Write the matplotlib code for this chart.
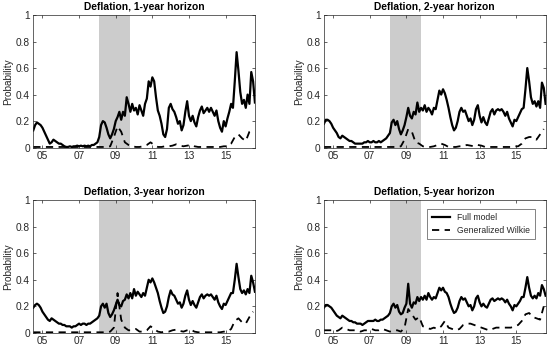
import numpy as np
import matplotlib
matplotlib.use("Agg")
import matplotlib.pyplot as plt

plt.rcParams['font.family'] = ['Liberation Sans', 'DejaVu Sans']

# time grids (years)
t_full = 2004.5 + 0.1 * np.arange(122)
t_wilkie = 2004.5 + 0.2 * np.arange(61)

titles = ["Deflation, 1-year horizon", "Deflation, 2-year horizon",
          "Deflation, 3-year horizon", "Deflation, 5-year horizon"]
tick_years = [2005, 2007, 2009, 2011, 2013, 2015]
tick_labels = ["05", "07", "09", "11", "13", "15"]
recession = (2008.1, 2009.78)

full_1y = [0.13, 0.17, 0.19, 0.18, 0.17, 0.15, 0.12, 0.09, 0.06, 0.03,
           0.04, 0.06, 0.05, 0.04, 0.03, 0.03, 0.02, 0.01, 0.005, 0.005,
           0.01, 0.005, 0.01, 0.01, 0.015, 0.01, 0.015, 0.01, 0.015, 0.01,
           0.015, 0.01, 0.02, 0.02, 0.03, 0.04, 0.08, 0.17, 0.20, 0.19,
           0.15, 0.10, 0.07, 0.10, 0.14, 0.20, 0.23, 0.27, 0.21, 0.27,
           0.24, 0.38, 0.33, 0.27, 0.33, 0.28, 0.30, 0.25, 0.32, 0.28,
           0.24, 0.33, 0.37, 0.50, 0.46, 0.53, 0.50, 0.38, 0.28, 0.24,
           0.18, 0.10, 0.08, 0.14, 0.30, 0.33, 0.29, 0.27, 0.23, 0.18,
           0.20, 0.13, 0.17, 0.27, 0.35, 0.24, 0.20, 0.24, 0.19, 0.16,
           0.23, 0.28, 0.31, 0.26, 0.28, 0.30, 0.27, 0.30, 0.27, 0.24,
           0.28, 0.20, 0.15, 0.12, 0.20, 0.16, 0.22, 0.27, 0.33, 0.30,
           0.50, 0.72, 0.58, 0.42, 0.33, 0.36, 0.30, 0.40, 0.33, 0.57,
           0.50, 0.34]
wilkie_1y = [0.005, 0.005, 0.005, 0.005, 0.005, 0.005, 0.005, 0.005, 0.005, 0.005,
             0.005, 0.005, 0.005, 0.005, 0.005, 0.005, 0.005, 0.005, 0.005, 0.005,
             0.005, 0.01, 0.08, 0.16, 0.12, 0.04, 0.02, 0.01, 0.005, 0.005,
             0.01, 0.02, 0.04, 0.02, 0.005, 0.005, 0.01, 0.01, 0.015, 0.025,
             0.015, 0.01, 0.015, 0.02, 0.01, 0.005, 0.005, 0.005, 0.005, 0.005,
             0.005, 0.005, 0.01, 0.01, 0.03, 0.08, 0.10, 0.07, 0.05, 0.12,
             0.14]

full_2y = [0.18, 0.21, 0.21, 0.20, 0.18, 0.15, 0.13, 0.11, 0.08, 0.07,
           0.09, 0.08, 0.07, 0.06, 0.05, 0.05, 0.04, 0.03, 0.03, 0.03,
           0.03, 0.03, 0.04, 0.04, 0.05, 0.04, 0.04, 0.05, 0.04, 0.04,
           0.05, 0.04, 0.05, 0.06, 0.07, 0.09, 0.11, 0.19, 0.21, 0.17,
           0.20, 0.14, 0.10, 0.13, 0.17, 0.23, 0.30, 0.24, 0.22, 0.27,
           0.25, 0.34, 0.27, 0.30, 0.28, 0.32, 0.27, 0.30, 0.28, 0.25,
           0.30, 0.29, 0.36, 0.43, 0.40, 0.44, 0.41, 0.36, 0.30, 0.23,
           0.17, 0.13, 0.15, 0.20, 0.27, 0.30, 0.27, 0.28, 0.24, 0.20,
           0.22, 0.17, 0.21, 0.29, 0.32, 0.24, 0.19, 0.23, 0.19, 0.17,
           0.22, 0.27, 0.29, 0.25, 0.28, 0.29, 0.28, 0.29, 0.27, 0.24,
           0.27, 0.22, 0.19, 0.16, 0.21, 0.20, 0.23, 0.26, 0.29, 0.30,
           0.44, 0.60, 0.50, 0.38, 0.33, 0.35, 0.31, 0.35, 0.30, 0.49,
           0.45, 0.33]
wilkie_2y = [0.005, 0.005, 0.005, 0.005, 0.005, 0.005, 0.005, 0.005, 0.005, 0.005,
             0.005, 0.005, 0.005, 0.005, 0.005, 0.005, 0.005, 0.005, 0.005, 0.005,
             0.005, 0.01, 0.06, 0.14, 0.12, 0.04, 0.03, 0.01, 0.005, 0.005,
             0.01, 0.02, 0.03, 0.02, 0.005, 0.005, 0.005, 0.01, 0.01, 0.02,
             0.015, 0.01, 0.02, 0.015, 0.005, 0.005, 0.005, 0.005, 0.005, 0.005,
             0.005, 0.005, 0.01, 0.01, 0.03, 0.07, 0.08, 0.08, 0.06, 0.10,
             0.14]

full_3y = [0.19, 0.21, 0.22, 0.21, 0.19, 0.16, 0.14, 0.12, 0.10, 0.09,
           0.11, 0.10, 0.09, 0.08, 0.07, 0.07, 0.06, 0.06, 0.05, 0.05,
           0.05, 0.04, 0.05, 0.05, 0.06, 0.07, 0.06, 0.07, 0.07, 0.06,
           0.07, 0.07, 0.08, 0.09, 0.10, 0.11, 0.13, 0.20, 0.22, 0.19,
           0.22, 0.15, 0.12, 0.14, 0.17, 0.21, 0.25, 0.21, 0.20, 0.24,
           0.25, 0.29, 0.26, 0.30, 0.26, 0.33, 0.28, 0.31, 0.29, 0.27,
           0.30, 0.28, 0.34, 0.40, 0.38, 0.41, 0.38, 0.34, 0.30, 0.24,
           0.19, 0.15, 0.16, 0.20, 0.27, 0.32, 0.29, 0.28, 0.25, 0.22,
           0.23, 0.19, 0.22, 0.28, 0.32, 0.25, 0.21, 0.24, 0.21, 0.19,
           0.23, 0.27, 0.29, 0.26, 0.28, 0.29, 0.28, 0.29, 0.27, 0.25,
           0.28, 0.23, 0.20, 0.18, 0.22, 0.21, 0.24, 0.27, 0.30, 0.30,
           0.40, 0.52, 0.42, 0.33, 0.30, 0.32, 0.29, 0.33, 0.30, 0.43,
           0.38, 0.31]
wilkie_3y = [0.005, 0.005, 0.005, 0.005, 0.005, 0.005, 0.005, 0.005, 0.005, 0.005,
             0.005, 0.005, 0.005, 0.005, 0.005, 0.005, 0.005, 0.005, 0.005, 0.005,
             0.005, 0.01, 0.04, 0.30, 0.10, 0.04, 0.02, 0.02, 0.03, 0.01,
             0.01, 0.02, 0.05, 0.03, 0.01, 0.005, 0.01, 0.01, 0.02, 0.025,
             0.015, 0.01, 0.02, 0.025, 0.01, 0.005, 0.005, 0.005, 0.005, 0.005,
             0.005, 0.005, 0.01, 0.01, 0.03, 0.09, 0.11, 0.08, 0.07, 0.12,
             0.16]

full_5y = [0.19, 0.21, 0.21, 0.20, 0.19, 0.17, 0.15, 0.13, 0.12, 0.11,
           0.13, 0.12, 0.11, 0.10, 0.09, 0.09, 0.08, 0.08, 0.07, 0.07,
           0.07, 0.06, 0.07, 0.08, 0.09, 0.09, 0.09, 0.09, 0.10, 0.09,
           0.09, 0.10, 0.10, 0.11, 0.12, 0.13, 0.15, 0.20, 0.22, 0.19,
           0.21, 0.16, 0.14, 0.15, 0.19, 0.22, 0.37, 0.22, 0.19, 0.23,
           0.22, 0.27, 0.24, 0.27, 0.25, 0.28, 0.25, 0.30, 0.27, 0.25,
           0.27, 0.26, 0.30, 0.34, 0.32, 0.34, 0.31, 0.30, 0.27, 0.22,
           0.18, 0.15, 0.16, 0.19, 0.24, 0.27, 0.25, 0.26, 0.23, 0.20,
           0.21, 0.17, 0.20, 0.26, 0.28, 0.23, 0.20, 0.22, 0.20, 0.19,
           0.22, 0.25, 0.26, 0.24, 0.25, 0.26, 0.25, 0.26, 0.25, 0.23,
           0.25, 0.22, 0.20, 0.17, 0.21, 0.20, 0.22, 0.24, 0.27, 0.27,
           0.34, 0.42, 0.34, 0.28, 0.26, 0.28, 0.26, 0.30, 0.28, 0.36,
           0.33, 0.28]
wilkie_5y = [0.02, 0.02, 0.02, 0.01, 0.02, 0.04, 0.03, 0.02, 0.02, 0.02,
             0.01, 0.02, 0.02, 0.03, 0.02, 0.02, 0.03, 0.02, 0.01, 0.02,
             0.02, 0.01, 0.04, 0.18, 0.14, 0.10, 0.12, 0.05, 0.04, 0.03,
             0.04, 0.03, 0.05, 0.09, 0.04, 0.03, 0.02, 0.03, 0.06, 0.07,
             0.07, 0.06, 0.05, 0.04, 0.03, 0.02, 0.03, 0.04, 0.04, 0.04,
             0.04, 0.04, 0.05, 0.06, 0.09, 0.14, 0.15, 0.12, 0.11, 0.10,
             0.20]

full_series = [full_1y, full_2y, full_3y, full_5y]
wilkie_series = [wilkie_1y, wilkie_2y, wilkie_3y, wilkie_5y]

fig = plt.figure(figsize=(5.5, 3.49), dpi=100)
# axes positions in figure fractions [left, bottom, width, height]
boxes = [[0.0605, 0.577, 0.403, 0.380],
         [0.589, 0.577, 0.403, 0.380],
         [0.0605, 0.046, 0.403, 0.381],
         [0.589, 0.046, 0.403, 0.381]]

axis_grey = (0.15, 0.15, 0.15)

for k in range(4):
    ax = fig.add_axes(boxes[k])
    ax.axvspan(recession[0], recession[1], color=(0.8, 0.8, 0.8), lw=0, zorder=0)
    ax.plot(t_full, full_series[k], color='black', lw=1.6, label='Full model')
    ax.plot(t_wilkie, wilkie_series[k], color='black', lw=1.3, ls=(0, (4, 3)),
            label='Generalized Wilkie')
    ax.set_xlim(2004.5, 2016.6)
    ax.set_ylim(0, 1)
    ax.set_xticks(tick_years)
    ax.set_xticklabels(tick_labels)
    ax.set_yticks([0, 0.2, 0.4, 0.6, 0.8, 1])
    ax.set_yticklabels(['0', '0.2', '0.4', '0.6', '0.8', '1'])
    ax.tick_params(direction='in', length=2.5, width=0.5, top=True, right=True,
                   labelsize=7.3, colors=axis_grey, pad=2.5)
    for s in ax.spines.values():
        s.set_color(axis_grey)
        s.set_linewidth(0.5)
    ax.set_ylabel('Probability', fontsize=7.2, color=axis_grey, labelpad=1.5)
    ax.set_title(titles[k], fontsize=7.4, fontweight='bold', pad=3.5)
    if k == 3:
        leg = ax.legend(loc='upper right', fontsize=6.2, frameon=True, fancybox=False,
                        edgecolor=axis_grey, handlelength=2.2, borderpad=0.5,
                        labelspacing=0.4, bbox_to_anchor=(0.97, 0.965))
        leg.get_frame().set_linewidth(0.5)
        for txt in leg.get_texts():
            txt.set_color(axis_grey)

fig.savefig('out.png', dpi=100)
